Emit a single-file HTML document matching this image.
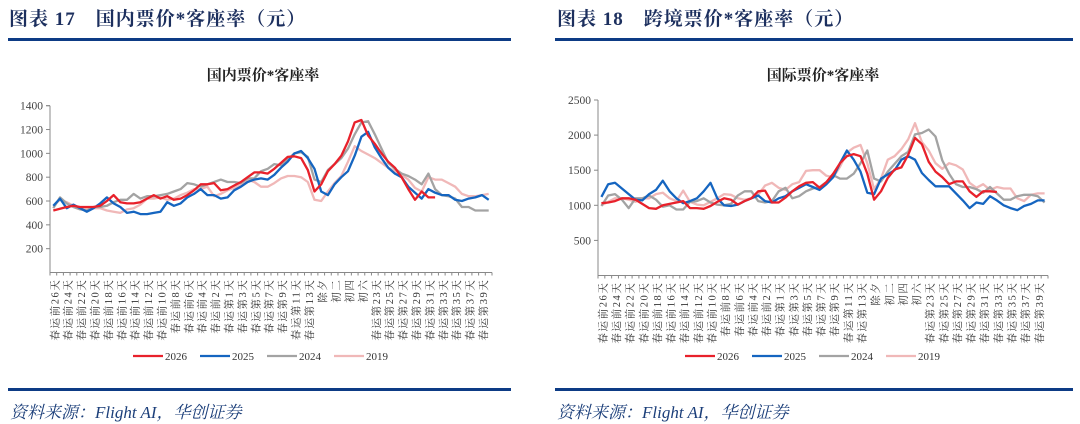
<!DOCTYPE html>
<html><head><meta charset="utf-8">
<style>
body{margin:0;width:1080px;height:424px;background:#fff;overflow:hidden;position:relative;font-family:"Liberation Serif","Noto Serif CJK SC",serif;}
.t{position:absolute;top:4px;font-size:19px;font-weight:bold;color:#1c2f5e;letter-spacing:1px;font-family:"Liberation Serif","Noto Serif CJK SC",serif;}
.hl{position:absolute;height:3px;background:#0d3b85;}
.src{position:absolute;top:398px;font-size:17px;font-style:italic;color:#1c3f7a;font-family:"Liberation Serif","Noto Serif CJK SC",serif;}
svg{position:absolute;top:0;}
</style></head><body>
<div class="t" style="left:9px">图表 17　国内票价*客座率（元）</div>
<div class="hl" style="left:8px;top:38px;width:503px"></div>
<div class="hl" style="left:8px;top:388px;width:503px"></div>
<div class="src" style="left:10px">资料来源：Flight AI，华创证券</div>
<div class="t" style="left:557px">图表 18　跨境票价*客座率（元）</div>
<div class="hl" style="left:555px;top:38px;width:518px"></div>
<div class="hl" style="left:555px;top:388px;width:518px"></div>
<div class="src" style="left:557px">资料来源：Flight AI，华创证券</div>
<svg id="c1" width="540" height="424" style="left:0"></svg>
<svg id="c2" width="540" height="424" style="left:540px"></svg>
<script>
const xLabels=["春运前26天","春运前24天","春运前22天","春运前20天","春运前18天","春运前16天","春运前14天","春运前12天","春运前10天","春运前8天","春运前6天","春运前4天","春运前2天","春运第1天","春运第3天","春运第5天","春运第7天","春运第9天","春运第11天","春运第13天","除夕","初二","初四","初六","春运第23天","春运第25天","春运第27天","春运第29天","春运第31天","春运第33天","春运第35天","春运第37天","春运第39天"];
const seriesNames=["2026","2025","2024","2019"];
const seriesColors=["#e8212b","#1565c0","#a3a3a3","#f0b8b8"];
const dom2026=[520,535,550,560,550,550,550,560,600,650,590,580,580,590,620,650,620,640,610,620,650,690,740,740,750,690,700,730,760,800,840,840,830,870,920,970,975,960,860,680,740,850,910,980,1100,1260,1280,1150,1080,1000,930,880,800,700,610,680,630,630];
const dom2025=[560,620,540,570,540,510,540,580,630,580,550,500,510,490,490,500,510,590,560,580,630,660,700,650,650,620,630,690,720,760,780,790,780,820,880,930,1000,1020,960,870,680,650,740,800,850,980,1140,1180,1050,960,880,830,800,720,670,620,700,670,650,650,610,600,620,630,650,610];
const dom2024=[540,630,580,550,530,520,550,550,560,590,610,610,660,620,640,640,650,660,680,700,750,740,720,740,760,780,760,760,750,790,790,850,870,910,900,950,1000,1010,970,780,760,860,910,960,1040,1160,1260,1270,1160,1040,920,870,830,810,780,740,830,700,650,640,620,550,550,520,520,520];
const dom2019=[560,610,590,560,540,530,540,540,520,510,500,530,540,570,620,620,630,610,620,650,670,700,700,720,640,660,690,710,740,780,760,720,720,750,790,810,810,800,760,610,600,680,750,810,930,1060,1020,990,960,920,880,850,820,780,710,680,800,780,780,750,720,660,640,640,650,660];
const cb2026=[1030,1040,1060,1100,1100,1080,1020,960,950,1000,1020,1040,1060,960,960,950,990,1050,1100,1080,1010,1060,1100,1200,1210,1040,1040,1110,1200,1270,1320,1330,1250,1330,1450,1600,1700,1730,1700,1450,1080,1200,1390,1510,1540,1720,1960,1870,1620,1480,1400,1300,1340,1340,1200,1120,1200,1200,1190];
const cb2025=[1120,1300,1320,1240,1160,1080,1070,1160,1220,1350,1200,1100,1030,1060,1100,1200,1320,1100,1000,990,1010,1060,1100,1140,1060,1040,1100,1130,1200,1250,1300,1260,1220,1300,1400,1600,1780,1650,1480,1180,1160,1380,1440,1500,1650,1700,1650,1460,1360,1270,1270,1270,1170,1070,960,1040,1020,1130,1070,1000,960,930,990,1020,1070,1070];
const cb2024=[990,1140,1160,1080,960,1100,1100,1140,1080,980,1000,940,940,1050,1060,1100,1040,1010,1000,1020,1140,1200,1200,1060,1040,1060,1200,1250,1100,1130,1200,1240,1260,1330,1430,1380,1380,1450,1600,1780,1380,1340,1480,1590,1700,1760,2010,2030,2080,1980,1640,1450,1300,1260,1260,1230,1180,1260,1170,1080,1080,1130,1150,1150,1130,1040];
const cb2019=[1000,1050,1100,1100,1080,1050,1100,1100,1160,1180,1100,1060,1210,1050,1010,1000,1050,1100,1160,1150,1100,1080,1100,1150,1280,1320,1250,1220,1300,1330,1490,1500,1500,1420,1400,1550,1750,1820,1860,1600,1230,1380,1650,1700,1800,1940,2170,1900,1780,1600,1520,1600,1570,1510,1320,1250,1300,1220,1260,1240,1240,1100,1060,1150,1170,1170];
const domTicks=[200,400,600,800,1000,1200,1400];
const cbTicks=[500,1000,1500,2000,2500];
const NS="http://www.w3.org/2000/svg";
function mk(svg,tag,attrs,name){const e=document.createElementNS(NS,tag);for(const k in attrs)e.setAttribute(k,attrs[k]);


svg.appendChild(e);return e;}
function draw(id,title,series,ticks,yMax,x0,x1,yTop,yBot,lx,legX){
 const svg=document.getElementById(id);const n=66;
 const xs=i=>x0+(x1-x0)*(i+0.5)/n;const ys=v=>yBot-(yBot-yTop)*v/yMax;
 const tt=mk(svg,'text',{x:(x0+x1)/2+(id=='c1'?-8:0),y:80,'text-anchor':'middle','font-size':'15','font-weight':'bold',fill:'#222','font-family':'"Liberation Serif","Noto Serif CJK SC",serif'},'chart-title');tt.textContent=title;
 mk(svg,'line',{x1:x0,y1:yTop,x2:x0,y2:yBot,stroke:'#888','stroke-width':1},'y-axis');
 mk(svg,'line',{x1:x0,y1:yBot,x2:x1,y2:yBot,stroke:'#888','stroke-width':1},'x-axis');
 ticks.forEach(t=>{const y=ys(t);mk(svg,'line',{x1:x0-4,y1:y,x2:x0,y2:y,stroke:'#888'},'y-tick');
  const e=mk(svg,'text',{x:x0-7,y:y+4,'text-anchor':'end','font-size':'11.5',fill:'#444','font-family':'"Liberation Serif",serif'},'y-tick-label');e.textContent=t;});
 mk(svg,'line',{x1:x0,y1:yTop,x2:x0-4,y2:yTop,stroke:'#888'},'y-tick');
 for(let i=0;i<=n;i++){mk(svg,'line',{x1:x0+(x1-x0)*i/n,y1:yBot,x2:x0+(x1-x0)*i/n,y2:yBot+3,stroke:'#888'},'x-tick');}
 xLabels.forEach((l,k)=>{const x=xs(2*k)+1;const e=mk(svg,'text',{x:0,y:0,transform:`translate(${x+4},${yBot+6}) rotate(-90)`,'text-anchor':'end','font-size':'10.5','letter-spacing':'1.6',fill:'#333','font-family':'"Liberation Serif","Noto Serif CJK SC",serif'},'x-tick-label');e.textContent=l;});
 for(let s=series.length-1;s>=0;s--){const d=series[s].map((v,i)=>(i?'L':'M')+xs(i).toFixed(1)+','+ys(v).toFixed(1)).join('');
  mk(svg,'path',{d:d,fill:'none',stroke:seriesColors[s],'stroke-width':2.3,'stroke-linejoin':'round'},'series-line-'+seriesNames[s]);}
 seriesNames.forEach((nm,s)=>{const x=legX+s*67;mk(svg,'line',{x1:x,y1:356,x2:x+30,y2:356,stroke:seriesColors[s],'stroke-width':2.3},'legend-swatch-'+nm);
  const e=mk(svg,'text',{x:x+32,y:360,'font-size':'11',fill:'#333','font-family':'"Liberation Serif",serif'},'legend-label-'+nm);e.textContent=nm;});
}
draw('c1','国内票价*客座率',[dom2026,dom2025,dom2024,dom2019],domTicks,1400,50,492,105.7,272.5,0,133);
draw('c2','国际票价*客座率',[cb2026,cb2025,cb2024,cb2019],cbTicks,2500,58,508,100,275.5,0,145);
</script>
</body></html>
